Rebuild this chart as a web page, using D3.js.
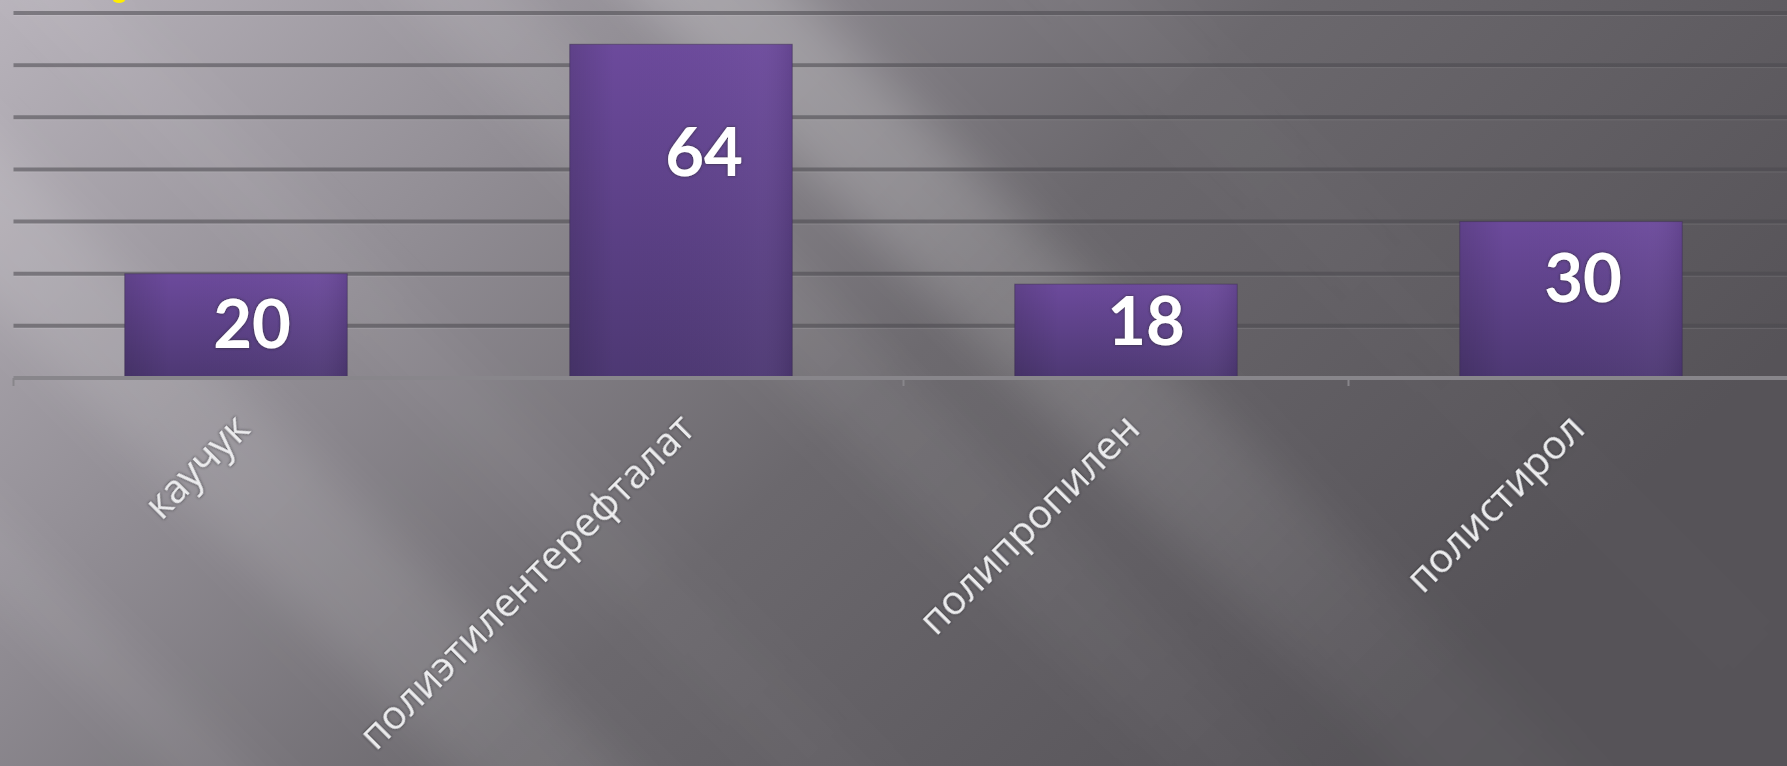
<head>
    <meta charset="utf-8">
    <style>
        body { margin: 0; overflow: hidden; background: #8a868c; }
        svg { display: block; }
    </style>
    <script src="https://cdn.jsdelivr.net/npm/d3@7/dist/d3.min.js"></script>
</head>
<body>
    <div id="chart"></div>
    <script>
        // data
        const categories = ["каучук", "полиэтилентерефталат", "полипропилен", "полистирол"];
        const values = [20, 64, 18, 30];
        const yTicks = [0, 10, 20, 30, 40, 50, 60, 70];

        // hand placement of the value labels (they are not centred on the slide)
        const labelDx = [16, 23, 20, 12];
        const labelDy = [50, 108, 37, 56];

        const width = 1787, height = 766;
        const left = 13.5, axisY = 378, topY = 13;

        // light streaks of the background: k = x - y, w = width, o = opacity
        const streaks = [
            {k: -560, w: 50, o: 0.09},
            {k: -230, w: 120, o: 0.13},
            {k: 60, w: 60, o: 0.05},
            {k: 470, w: 90, o: 0.10},
            {k: 720, w: 120, o: 0.24},
            {k: 1100, w: 70, o: 0.03}
        ];

        const svg = d3.select("#chart")
            .append("svg")
            .attr("width", width)
            .attr("height", height);

        const defs = svg.append("defs");

        const bg = defs.append("linearGradient")
            .attr("id", "bg")
            .attr("x1", 0).attr("y1", 0).attr("x2", 1).attr("y2", 0.45);
        bg.append("stop").attr("offset", 0).attr("stop-color", "#b8b3bb");
        bg.append("stop").attr("offset", 0.3).attr("stop-color", "#928e95");
        bg.append("stop").attr("offset", 0.6).attr("stop-color", "#6b686d");
        bg.append("stop").attr("offset", 1).attr("stop-color", "#565358");

        const fade = defs.append("linearGradient")
            .attr("id", "fade")
            .attr("gradientUnits", "userSpaceOnUse")
            .attr("x1", 0).attr("y1", 0).attr("x2", 1900).attr("y2", 0);
        fade.append("stop").attr("offset", 0).attr("stop-color", "#fff").attr("stop-opacity", 1);
        fade.append("stop").attr("offset", 0.4).attr("stop-color", "#fff").attr("stop-opacity", 0.85);
        fade.append("stop").attr("offset", 0.75).attr("stop-color", "#fff").attr("stop-opacity", 0.2);
        fade.append("stop").attr("offset", 1).attr("stop-color", "#fff").attr("stop-opacity", 0);

        defs.append("filter").attr("id", "blur")
            .attr("x", "-20%").attr("y", "-50%").attr("width", "140%").attr("height", "200%")
            .append("feGaussianBlur").attr("stdDeviation", 24);

        const bar = defs.append("linearGradient")
            .attr("id", "bar")
            .attr("x1", 0).attr("y1", 0).attr("x2", 0).attr("y2", 1);
        bar.append("stop").attr("offset", 0).attr("stop-color", "#6c4a9c");
        bar.append("stop").attr("offset", 1).attr("stop-color", "#4d3873");

        const barSide = defs.append("linearGradient")
            .attr("id", "barSide")
            .attr("x1", 0).attr("y1", 0).attr("x2", 1).attr("y2", 0);
        barSide.append("stop").attr("offset", 0).attr("stop-color", "#000").attr("stop-opacity", 0.12);
        barSide.append("stop").attr("offset", 0.2).attr("stop-color", "#000").attr("stop-opacity", 0);
        barSide.append("stop").attr("offset", 0.85).attr("stop-color", "#fff").attr("stop-opacity", 0.03);
        barSide.append("stop").attr("offset", 1).attr("stop-color", "#000").attr("stop-opacity", 0.08);

        const shadow = defs.append("filter").attr("id", "txtShadow")
            .attr("x", "-10%").attr("y", "-30%").attr("width", "120%").attr("height", "160%");
        shadow.append("feDropShadow")
            .attr("dx", 0).attr("dy", 0).attr("stdDeviation", 1.6)
            .attr("flood-color", "#2a282e").attr("flood-opacity", 0.9);

        // background
        svg.append("rect")
            .attr("width", width).attr("height", height)
            .attr("fill", "url(#bg)");

        const streakG = svg.append("g")
            .attr("transform", "rotate(45)")
            .attr("filter", "url(#blur)");

        streakG.selectAll("rect")
            .data(streaks)
            .join("rect")
            .attr("x", -300)
            .attr("width", 2200)
            .attr("y", d => -d.k / Math.SQRT2 - d.w / 2)
            .attr("height", d => d.w)
            .attr("fill", "url(#fade)")
            .attr("opacity", d => d.o);

        // scales
        const x = d3.scaleBand()
            .domain(categories)
            .range([left, left + 445 * 4])
            .paddingInner(0.5)
            .paddingOuter(0.25);

        const y = d3.scaleLinear()
            .domain([0, 70])
            .range([axisY, topY]);

        // gridlines
        const grid = svg.append("g");
        grid.selectAll("line.dark")
            .data(yTicks.filter(t => t > 0))
            .join("line")
            .attr("class", "dark")
            .attr("x1", left).attr("x2", width)
            .attr("y1", d => y(d)).attr("y2", d => y(d))
            .attr("stroke", "#4a484e")
            .attr("stroke-opacity", 0.55)
            .attr("stroke-width", 4);
        grid.selectAll("line.light")
            .data(yTicks.filter(t => t > 0))
            .join("line")
            .attr("class", "light")
            .attr("x1", left).attr("x2", width)
            .attr("y1", d => y(d) + 2.5).attr("y2", d => y(d) + 2.5)
            .attr("stroke", "#fff")
            .attr("stroke-opacity", 0.1)
            .attr("stroke-width", 1);

        // bars
        const bars = svg.append("g")
            .selectAll("g")
            .data(values)
            .join("g");

        bars.append("rect")
            .attr("x", (d, i) => x(categories[i]))
            .attr("y", d => y(d))
            .attr("width", x.bandwidth())
            .attr("height", d => y(0) - y(d))
            .attr("fill", "url(#bar)")
            .attr("stroke", "#3e3050")
            .attr("stroke-opacity", 0.5)
            .attr("stroke-width", 1);

        bars.append("rect")
            .attr("x", (d, i) => x(categories[i]))
            .attr("y", d => y(d))
            .attr("width", x.bandwidth())
            .attr("height", d => y(0) - y(d))
            .attr("fill", "url(#barSide)");

        // x axis
        const xAxis = svg.append("g")
            .attr("transform", `translate(0,${axisY})`);
        xAxis.append("line")
            .attr("x1", left).attr("x2", width)
            .attr("stroke", "#88868b")
            .attr("stroke-width", 4);
        const tickPos = d3.range(categories.length + 1).map(i => left + i * x.step());
        xAxis.selectAll("line.tick")
            .data(tickPos)
            .join("line")
            .attr("class", "tick")
            .attr("x1", d => d).attr("x2", d => d)
            .attr("y1", 0).attr("y2", 8)
            .attr("stroke", "#88868b")
            .attr("stroke-width", 2);

        // category labels
        svg.append("g")
            .selectAll("text")
            .data(categories)
            .join("text")
            .attr("transform", d => `translate(${x(d) + x.bandwidth() / 2 + 16},${axisY + 53}) rotate(-45)`)
            .attr("text-anchor", "end")
            .attr("font-family", "'Open Sans', sans-serif")
            .attr("font-size", 40)
            .attr("fill", "#ececee")
            .attr("filter", "url(#txtShadow)")
            .text(d => d);

        // value labels
        svg.append("g")
            .selectAll("text")
            .data(values)
            .join("text")
            .attr("x", (d, i) => x(categories[i]) + x.bandwidth() / 2 + labelDx[i])
            .attr("y", (d, i) => y(d) + labelDy[i])
            .attr("dy", "0.36em")
            .attr("text-anchor", "middle")
            .attr("font-family", "Lato, sans-serif")
            .attr("font-weight", 700)
            .attr("font-size", 67)
            .attr("fill", "#fff")
            .attr("filter", "url(#txtShadow)")
            .text(d => d);

        // yellow fragment at the top edge
        svg.append("ellipse")
            .attr("cx", 119).attr("cy", 0)
            .attr("rx", 6).attr("ry", 3)
            .attr("fill", "#ffee00");
    </script>
</body>
